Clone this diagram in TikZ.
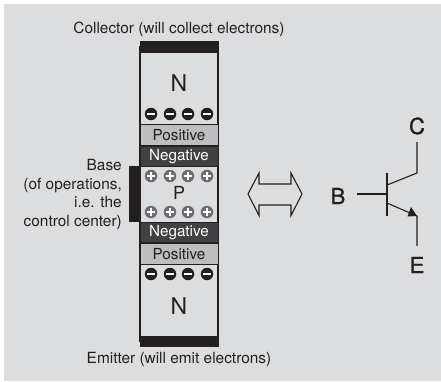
\documentclass[tikz,border=0pt]{standalone}
\usepackage{fontspec}
\setmainfont{TeX Gyre Heros}
\usetikzlibrary{arrows.meta,positioning,calc}
\definecolor{PanelGray}{HTML}{DCDDDF}
\definecolor{LayerLight}{HTML}{BCBEC0}
\definecolor{LayerDark}{HTML}{414042}
\definecolor{InkDark}{HTML}{231F20}
\definecolor{PlusGray}{HTML}{6D6E71}
\tikzset{
  layerlight/.style={draw=InkDark, line width=1pt, fill=LayerLight, text=InkDark, minimum width=78pt, minimum height=20.5pt, inner sep=0pt, font=\fontsize{15.2}{17}\selectfont},
  layerdark/.style={layerlight, fill=LayerDark, text=white},
  caption/.style={text=InkDark, font=\fontsize{15.4}{18.7}\selectfont, inner sep=0pt},
  regionlabel/.style={text=InkDark, inner sep=0pt, font=\fontsize{23}{25}\selectfont},
  termlabel/.style={text=InkDark, inner sep=0pt, font=\fontsize{22}{24}\selectfont\addfontfeature{FakeBold=1.2}},
  chargedisc/.style={circle, fill=#1, minimum size=12.5pt, inner sep=0pt},
  wire/.style={draw=InkDark, line width=1.1pt},
}
\begin{document}
\begin{tikzpicture}[x=1pt,y=-1pt]
  \useasboundingbox (0,0) rectangle (441,381);
  \fill[PanelGray] (4,4) rectangle (441,381);
  % semiconductor column
  \draw[InkDark, line width=1.1pt] (140,47) rectangle (218,341);
  \fill[InkDark] (139.5,41) rectangle (218.5,53);
  \fill[InkDark] (139.5,336) rectangle (218.5,347);
  \fill[InkDark] (129,166) rectangle (140,222);
  \node[layerlight] (posTop) at (179,135) {Positive};
  \node[layerdark, below=0pt of posTop] (negTop) {Negative};
  \node[layerdark] (negBot) at (179,232.5) {Negative};
  \node[layerlight, below=0pt of negBot] (posBot) {Positive};
  \node[regionlabel] (nTop) at (179,83) {N};
  \node[regionlabel, font=\fontsize{18}{20}\selectfont] (pMid) at (179,193) {P};
  \node[regionlabel] (nBot) at (179,306) {N};
  % charges
  \foreach \x/\n in {151/a,170/b,188/c,207/d} {
    \node[chargedisc=InkDark] (minusTop\n) at (\x,114) {};
    \fill[white] (\x-3.8,112.8) rectangle (\x+3.8,115.2);
    \node[chargedisc=InkDark] (minusBot\n) at (\x,274) {};
    \fill[white] (\x-3.8,272.8) rectangle (\x+3.8,275.2);
    \node[chargedisc=PlusGray] (plusTop\n) at (\x,176) {};
    \fill[white] (\x-3.8,175) rectangle (\x+3.8,177);
    \fill[white] (\x-1,172.2) rectangle (\x+1,179.8);
    \node[chargedisc=PlusGray] (plusBot\n) at (\x,212) {};
    \fill[white] (\x-3.8,211) rectangle (\x+3.8,213);
    \fill[white] (\x-1,208.2) rectangle (\x+1,215.8);
  }
  % captions
  \node[caption] (collector) at (179,29) {Collector (will collect electrons)};
  \node[caption] (emitter) at (179,360) {Emitter (will emit electrons)};
  \node[caption, align=right, anchor=east] (base) at (122,194.5) {Base\\(of operations,\\i.e. the\\control center)};
  % double arrow
  \draw[wire] (248,194) -- (259,173) -- (259,184) -- (291,184) -- (291,173) -- (302,194)
    -- (291,215.5) -- (291,205) -- (259,205) -- (259,215.5) -- cycle;
  % transistor symbol
  \node[termlabel] (termC) at (417,126) {C};
  \node[termlabel] (termB) at (338,196) {B};
  \node[termlabel] (termE) at (417,265) {E};
  \coordinate (barTop) at (387,173);
  \coordinate (barBot) at (387,216);
  \coordinate (baseIn) at (357,194);
  \coordinate (baseEnd) at (387,194);
  \coordinate (colIn) at (387,185);
  \coordinate (colKnee) at (417,173);
  \coordinate (colEnd) at (417,142);
  \coordinate (emiIn) at (387,203);
  \coordinate (emiKnee) at (417,216);
  \coordinate (emiEnd) at (417,246);
  \draw[wire] (barTop) -- (barBot);
  \draw[wire] (baseIn) -- (baseEnd);
  \draw[wire] (colIn) -- (colKnee) -- (colEnd);
  \draw[wire] (emiIn) -- (emiKnee) -- (emiEnd);
  \fill[InkDark] (417,216) -- (407.5,216.5) -- (411,207) -- cycle;
\end{tikzpicture}
\end{document}
